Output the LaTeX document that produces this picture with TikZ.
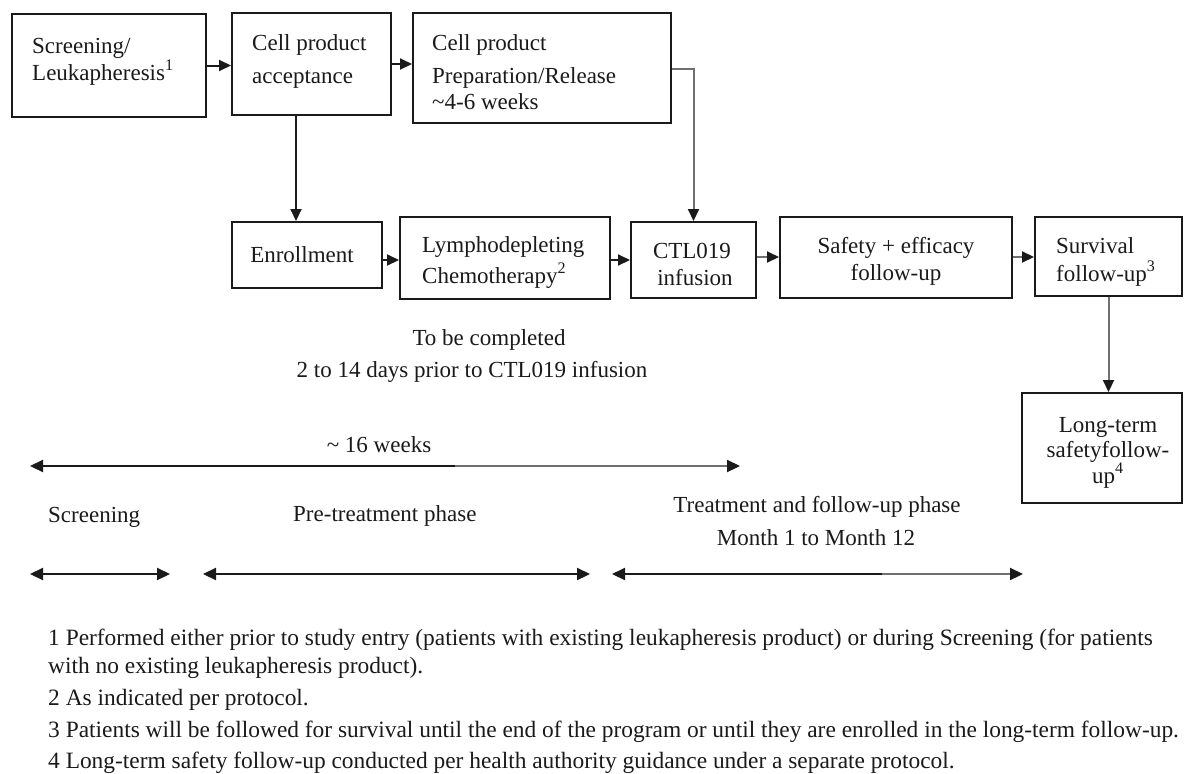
\documentclass[tikz,border=0pt]{standalone}
\usepackage{fontspec}
\setmainfont{Liberation Serif}
\usetikzlibrary{arrows.meta}
\definecolor{ink}{HTML}{1A1A1A}
\definecolor{lgray}{HTML}{707070}
\begin{document}
\begin{tikzpicture}[x=1pt,y=-1pt,
  box/.style={draw=ink, line width=2pt, inner sep=0pt},
  txt/.style={inner sep=0pt, anchor=base west, font=\fontsize{23}{27}\selectfont, text=ink},
  ctxt/.style={txt, anchor=base},
  ftxt/.style={txt, font=\fontsize{23.4}{27}\selectfont},
  arr/.style={draw=ink, line width=2pt, -{Triangle[length=12pt,width=11pt]}},
  garr/.style={draw=lgray, line width=2pt, -{Triangle[length=12pt,width=11pt,color=ink]}},
  tlineL/.style={draw=ink, line width=2.2pt, {Triangle[length=13pt,width=12pt]}-},
  tlineR/.style={draw=lgray, line width=2.2pt, -{Triangle[length=13pt,width=12pt,color=ink]}},
  tlineRk/.style={draw=ink, line width=2.2pt, -{Triangle[length=13pt,width=12pt]}}
]
\useasboundingbox (0,0) rectangle (1184,774);
\fill[white] (0,0) rectangle (1184,774);

% boxes
\node[box, minimum width=194pt, minimum height=103pt] (b1) at (109,65.5) {};
\node[box, minimum width=159pt, minimum height=102pt] (b2) at (311.5,64) {};
\node[box, minimum width=258pt, minimum height=110pt] (b3) at (542,68) {};
\node[box, minimum width=150pt, minimum height=66pt] (enr) at (307,255) {};
\node[box, minimum width=210pt, minimum height=82pt] (lym) at (505,258) {};
\node[box, minimum width=125pt, minimum height=76pt] (ctl) at (693.5,260) {};
\node[box, minimum width=232pt, minimum height=81pt] (saf) at (896,257.5) {};
\node[box, minimum width=147pt, minimum height=79pt] (sur) at (1108.5,256.5) {};
\node[box, minimum width=160pt, minimum height=110pt] (lt) at (1102,448) {};

% box texts
\node[txt] (t1a) at (32,53) {Screening/};
\node[txt] (t1b) at (32,80) {Leukapheresis\textsuperscript{1}};
\node[txt] (t2a) at (252,50) {Cell product};
\node[txt] (t2b) at (252,83) {acceptance};
\node[txt] (t3a) at (432,50) {Cell product};
\node[txt] (t3b) at (432,83) {Preparation/Release};
\node[txt] (t3c) at (432,109) {\textasciitilde4-6 weeks};
\node[ctxt] (tenr) at (302,262) {Enrollment};
\node[txt] (tla) at (422,252) {Lymphodepleting};
\node[txt] (tlb) at (422,283) {Chemotherapy\textsuperscript{2}};
\node[ctxt] (tca) at (692,258) {CTL019};
\node[ctxt] (tcb) at (695,285) {infusion};
\node[ctxt] (tsa) at (896,253) {Safety + efficacy};
\node[ctxt] (tsb) at (896,280) {follow-up};
\node[txt] (tua) at (1056,253) {Survival};
\node[txt] (tub) at (1056,281) {follow-up\textsuperscript{3}};
\node[ctxt] (tta) at (1108,432) {Long-term};
\node[ctxt] (ttb) at (1108,457) {safetyfollow-};
\node[ctxt] (ttc) at (1108,483) {up\textsuperscript{4}};

% free text
\node[ctxt] (tb1) at (489,345) {To be completed};
\node[ctxt] (tb2) at (472,377) {2 to 14 days prior to CTL019 infusion};

% connector helpers
\coordinate (vx) at (296,0);
\coordinate (k3) at (0,69);
\coordinate (r2) at (0,260);
\coordinate (r3) at (0,257);

\draw[arr] (b1.east) -- (b2.west |- b1.east);
\draw[arr] (b2.east) -- (b3.west |- b2.east);
\draw[arr] (b2.south -| vx) -- (enr.north -| vx);
\draw[garr] (b3.east |- k3) -| (ctl.north);
\draw[arr] (enr.east |- r2) -- (lym.west |- r2);
\draw[arr] (lym.east |- r2) -- (ctl.west |- r2);
\draw[garr] (ctl.east |- r3) -- (saf.west |- r3);
\draw[garr] (saf.east |- r3) -- (sur.west |- r3);
\draw[garr] (sur.south) -- (lt.north -| sur.south);

% timeline
\coordinate (a1) at (30,466);
\coordinate (a1m) at (455,466);
\coordinate (a1r) at (740,466);
\draw[tlineL] (a1) -- (a1m);
\draw[tlineR] (a1m) -- (a1r);
\node[ctxt] (w16) at (379,452) {\textasciitilde{} 16 weeks};

\node[txt] (ls) at (48,522) {Screening};
\node[txt] (lp) at (293,521) {Pre-treatment phase};
\node[ctxt] (lt1) at (817,512) {Treatment and follow-up phase};
\node[ctxt] (lt2) at (816,545) {Month 1 to Month 12};

\coordinate (s1) at (30,574);
\coordinate (s1m) at (100,574);
\coordinate (s1r) at (170,574);
\draw[tlineL] (s1) -- (s1m);
\draw[tlineRk] (s1m) -- (s1r);

\coordinate (p1) at (203,574);
\coordinate (p1m) at (450,574);
\coordinate (p1r) at (590,574);
\draw[tlineL] (p1) -- (p1m);
\draw[tlineRk] (p1m) -- (p1r);

\coordinate (q1) at (612,574);
\coordinate (q1m) at (882,574);
\coordinate (q1r) at (1023,574);
\draw[tlineL] (q1) -- (q1m);
\draw[tlineR] (q1m) -- (q1r);

% footnotes
\node[ftxt] (f1) at (48,645) {1 Performed either prior to study entry (patients with existing leukapheresis product) or during Screening (for patients};
\node[ftxt] (f1b) at (48,673) {with no existing leukapheresis product).};
\node[ftxt] (f2) at (48,705) {2 As indicated per protocol.};
\node[ftxt] (f3) at (48,737) {3 Patients will be followed for survival until the end of the program or until they are enrolled in the long-term follow-up.};
\node[ftxt] (f4) at (48,768) {4 Long-term safety follow-up conducted per health authority guidance under a separate protocol.};
\end{tikzpicture}
\end{document}
